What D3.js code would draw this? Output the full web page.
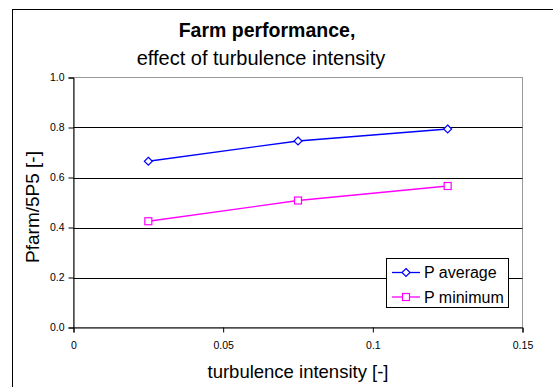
<!DOCTYPE html>
<html>
<head>
<meta charset="utf-8">
<script src="https://cdn.jsdelivr.net/npm/d3@7"></script>
<style>
  html, body { margin: 0; padding: 0; background: #fff; }
  svg { display: block; font-family: Arial, "Liberation Sans", sans-serif; }
</style>
</head>
<body>
<svg id="chart" width="553" height="387"></svg>
<script>
// Turbulence intensity levels and the farm power ratios measured at each
const intensity = [0.025, 0.075, 0.125];
const pAverage = [0.665, 0.746, 0.794];
const pMinimum = [0.425, 0.508, 0.566];
const seriesNames = ["P average", "P minimum"];
const xTicks = [0, 0.05, 0.1, 0.15];
const yTicks = [0, 0.2, 0.4, 0.6, 0.8, 1.0];

const svg = d3.select("#chart");

// Outer chart frame (runs off the right and bottom edges)
svg.append("rect")
  .attr("x", 12.5).attr("y", 9.5)
  .attr("width", 600).attr("height", 400)
  .attr("fill", "#fff").attr("stroke", "#000").attr("stroke-width", 1);

const plot = { left: 73.5, right: 522.5, top: 77.5, bottom: 327.5 };

const x = d3.scaleLinear().domain([0, 0.15]).range([plot.left, plot.right]);
const y = d3.scaleLinear().domain([0, 1]).range([plot.bottom, plot.top]);

// Plot area border: grey on top and right
svg.append("rect")
  .attr("x", plot.left).attr("y", plot.top)
  .attr("width", plot.right - plot.left).attr("height", plot.bottom - plot.top)
  .attr("fill", "#fff").attr("stroke", "#999").attr("stroke-width", 1);

// Horizontal gridlines
svg.append("g")
  .selectAll("line")
  .data(yTicks.filter(d => d > 0 && d < 1))
  .join("line")
  .attr("x1", plot.left).attr("x2", plot.right)
  .attr("y1", d => Math.round(y(d)) + 0.5).attr("y2", d => Math.round(y(d)) + 0.5)
  .attr("stroke", "#000").attr("stroke-width", 1);

// Axes
const yAxis = svg.append("g")
  .attr("transform", `translate(${plot.left},0)`)
  .call(d3.axisLeft(y).tickValues(yTicks).tickFormat(d3.format(".1f")).tickSize(5).tickPadding(4));
const xAxis = svg.append("g")
  .attr("transform", `translate(0,${plot.bottom})`)
  .call(d3.axisBottom(x).tickValues(xTicks).tickFormat(d => String(d)).tickSize(5).tickPadding(9));

[xAxis, yAxis].forEach(g => {
  g.select(".domain").attr("stroke", "#000");
  g.selectAll(".tick line").attr("stroke", "#000");
  g.selectAll(".tick text").attr("fill", "#000").attr("font-size", 10.5)
    .attr("font-family", "Arial, 'Liberation Sans', sans-serif");
});

// Titles
svg.append("text").attr("x", 267).attr("y", 37)
  .attr("text-anchor", "middle").attr("font-size", 19.5).attr("font-weight", "bold")
  .text("Farm performance,");
svg.append("text").attr("x", 261).attr("y", 65)
  .attr("text-anchor", "middle").attr("font-size", 20)
  .text("effect of turbulence intensity");

svg.append("text").attr("x", 298).attr("y", 378)
  .attr("text-anchor", "middle").attr("font-size", 18.5)
  .text("turbulence intensity [-]");
svg.append("text")
  .attr("transform", "translate(39,207) rotate(-90)")
  .attr("text-anchor", "middle").attr("font-size", 19)
  .text("Pfarm/5P5 [-]");

// Series
const series = [
  { name: seriesNames[0], values: pAverage, color: "#0000ff", marker: "diamond" },
  { name: seriesNames[1], values: pMinimum, color: "#ff00ff", marker: "square" }
];

const line = d3.line().x(d => x(d[0])).y(d => y(d[1]));

function drawMarker(g, type, cx, cy, color) {
  if (type === "diamond") {
    const s = 4;
    g.append("path")
      .attr("d", `M${cx},${cy - s}L${cx + s},${cy}L${cx},${cy + s}L${cx - s},${cy}Z`)
      .attr("fill", "#fff").attr("stroke", color).attr("stroke-width", 1.2);
  } else {
    const s = 3.5;
    g.append("rect")
      .attr("x", cx - s).attr("y", cy - s).attr("width", 2 * s).attr("height", 2 * s)
      .attr("fill", "#fff").attr("stroke", color).attr("stroke-width", 1.2);
  }
}

series.forEach(s => {
  const pts = intensity.map((v, i) => [v, s.values[i]]);
  const g = svg.append("g");
  g.append("path").datum(pts).attr("d", line)
    .attr("fill", "none").attr("stroke", s.color).attr("stroke-width", 1.3);
  pts.forEach(p => drawMarker(g, s.marker, x(p[0]), y(p[1]), s.color));
});

// Legend
const legend = svg.append("g");
legend.append("rect")
  .attr("x", 386.5).attr("y", 258.5).attr("width", 122).attr("height", 49)
  .attr("fill", "#fff").attr("stroke", "#000").attr("stroke-width", 1);
series.forEach((s, i) => {
  const ly = 272.5 + i * 24.5;
  legend.append("line").attr("x1", 392).attr("x2", 420).attr("y1", ly).attr("y2", ly)
    .attr("stroke", s.color).attr("stroke-width", 1.3);
  drawMarker(legend, s.marker, 406, ly, s.color);
  legend.append("text").attr("x", 424).attr("y", ly + 5.5)
    .attr("font-size", 16).text(s.name);
});
</script>
</body>
</html>
